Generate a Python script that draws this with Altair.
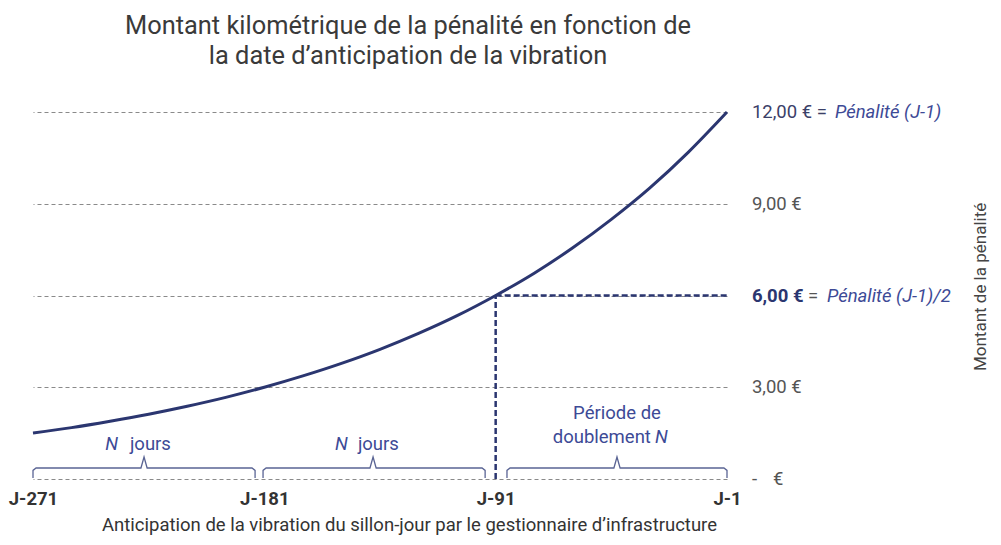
import altair as alt
import pandas as pd

# --- data ---
days = [-271, -256, -241, -226, -211, -196, -181, -166, -151, -136, -121,
        -106, -91, -76, -61, -46, -31, -16, -1]
penalty = [1.50, 1.68, 1.89, 2.12, 2.38, 2.67, 3.00, 3.37, 3.78, 4.24, 4.76,
           5.34, 6.00, 6.73, 7.56, 8.49, 9.52, 10.69, 12.00]
tick_days = [-271, -181, -91, -1]
grid_values = [0, 3, 6, 9, 12]
half_day = -91
half_value = 6.0

# braces: (start, middle, end) in days
brace_start = [-271.0, -181.5, -86.6]
brace_mid = [-227.8, -138.7, -43.8]
brace_end = [-184.6, -95.1, -1.0]
brace_low, brace_bar, brace_top = 0.03, 0.36, 0.72

FONT = "Roboto"
NAVY = "#2b3670"
BLUE = "#3d4a96"
GRAY = "#555555"
FS = 18.5

X = alt.X("d:Q", scale=alt.Scale(domain=[-271, -1], nice=False, zero=False),
          axis=alt.Axis(values=tick_days, labelExpr="'J' + datum.value",
                        labelFontWeight="bold", labelFontSize=18.5, labelColor="#333333",
                        labelFont=FONT, ticks=False, domain=False, grid=False,
                        labelPadding=10, labelFlush=False, labelOverlap=False,
                        title="Anticipation de la vibration du sillon-jour par le gestionnaire d\u2019infrastructure",
                        titleFont=FONT, titleFontSize=18.5, titleFontWeight="normal",
                        titleColor="#333333", titlePadding=8, titleX=376))
Y = alt.Y("v:Q", scale=alt.Scale(domain=[0, 12], nice=False),
          axis=alt.Axis(orient="right", values=grid_values, labels=False, ticks=False,
                        domain=False, grid=True, gridDash=[4, 3], gridColor="#8a8a8a",
                        gridWidth=1, title=None))

curve_df = pd.DataFrame({"d": days, "v": penalty})
curve = alt.Chart(curve_df).mark_line(color=NAVY, strokeWidth=3,
                                      interpolate="monotone").encode(x=X, y=Y)

hline = alt.Chart(pd.DataFrame({"d": [half_day], "d2": [-1], "v": [half_value]})).mark_rule(
    color=NAVY, strokeWidth=2.5, strokeDash=[6, 3]).encode(x="d:Q", x2="d2:Q", y="v:Q")
vline = alt.Chart(pd.DataFrame({"d": [half_day], "v": [0], "v2": [half_value]})).mark_rule(
    color=NAVY, strokeWidth=2.5, strokeDash=[6, 3]).encode(x="d:Q", y="v:Q", y2="v2:Q")

# braces as polylines
rows = []
for i, (s, m, e) in enumerate(zip(brace_start, brace_mid, brace_end)):
    pts = [(s, brace_low), (s, brace_bar - 0.08), (s + 1.2, brace_bar),
           (m - 1.2, brace_bar), (m, brace_top), (m + 1.2, brace_bar),
           (e - 1.2, brace_bar), (e, brace_bar - 0.08), (e, brace_low)]
    for k, (x, y) in enumerate(pts):
        rows.append({"b": i, "k": k, "d": x, "v": y})
braces = alt.Chart(pd.DataFrame(rows)).mark_line(color="#5a6494", strokeWidth=1.3).encode(
    x="d:Q", y="v:Q", detail="b:N", order="k:Q")


def txt(df, **kw):
    base = dict(font=FONT, fontSize=FS, align="left", baseline="middle")
    base.update(kw)
    return alt.Chart(pd.DataFrame(df)).mark_text(**base).encode(
        x="d:Q", y="v:Q", text="t:N")


ann = [
    # N jours labels
    txt({"d": [-237.9, -148.5], "v": [1.14, 1.14], "t": ["N", "N"]},
        align="right", fontStyle="italic", color=BLUE),
    txt({"d": [-233.3, -144.6], "v": [1.14, 1.14], "t": ["jours", "jours"]}, color=BLUE),
    txt({"d": [-43.8], "v": [2.16], "t": ["Période de"]}, align="center", color=BLUE),
    txt({"d": [-30.6], "v": [1.37], "t": ["doublement"]}, align="right", color=BLUE),
    txt({"d": [-29.0], "v": [1.37], "t": ["N"]}, fontStyle="italic", color=BLUE),
    # right-side value labels
    txt({"d": [8.7], "v": [12], "t": ["12,00 € ="]}, color="#3b4068"),
    txt({"d": [41.0], "v": [12], "t": ["Pénalité (J-1)"]}, fontStyle="italic", color=BLUE),
    txt({"d": [8.7, 8.7], "v": [9, 3], "t": ["9,00 €", "3,00 €"]}, color=GRAY),
    txt({"d": [8.7], "v": [6], "t": ["6,00 €"]}, fontWeight="bold", color=NAVY),
    txt({"d": [30.5], "v": [6], "t": ["="]}, color=GRAY),
    txt({"d": [37.9], "v": [6], "t": ["Pénalité (J-1)/2"]}, fontStyle="italic", color=BLUE),
    txt({"d": [8.7], "v": [0], "t": ["-"]}, color=GRAY),
    txt({"d": [16.9], "v": [0], "t": ["€"]}, color=GRAY),
    # right axis title
    txt({"d": [97.8], "v": [6.28], "t": ["Montant de la pénalité"]},
        align="center", angle=270, color="#444444", fontSize=17),
]

chart = alt.layer(curve, braces, hline, vline, *ann).properties(
    width=694, height=367,
    title=alt.Title(["Montant kilométrique de la pénalité en fonction de",
                     "la date d\u2019anticipation de la vibration"],
                    font=FONT, fontSize=25.4, fontWeight="normal", color="#3a3a3a",
                    anchor="middle", dx=28, offset=34, lineHeight=30),
    autosize=alt.AutoSizeParams(type="none"),
    padding={"left": 25, "top": 104, "right": 266, "bottom": 58},
).configure(font=FONT).configure_view(stroke=None)

chart.save("out.html", embed_options={"renderer": "svg", "actions": False})
